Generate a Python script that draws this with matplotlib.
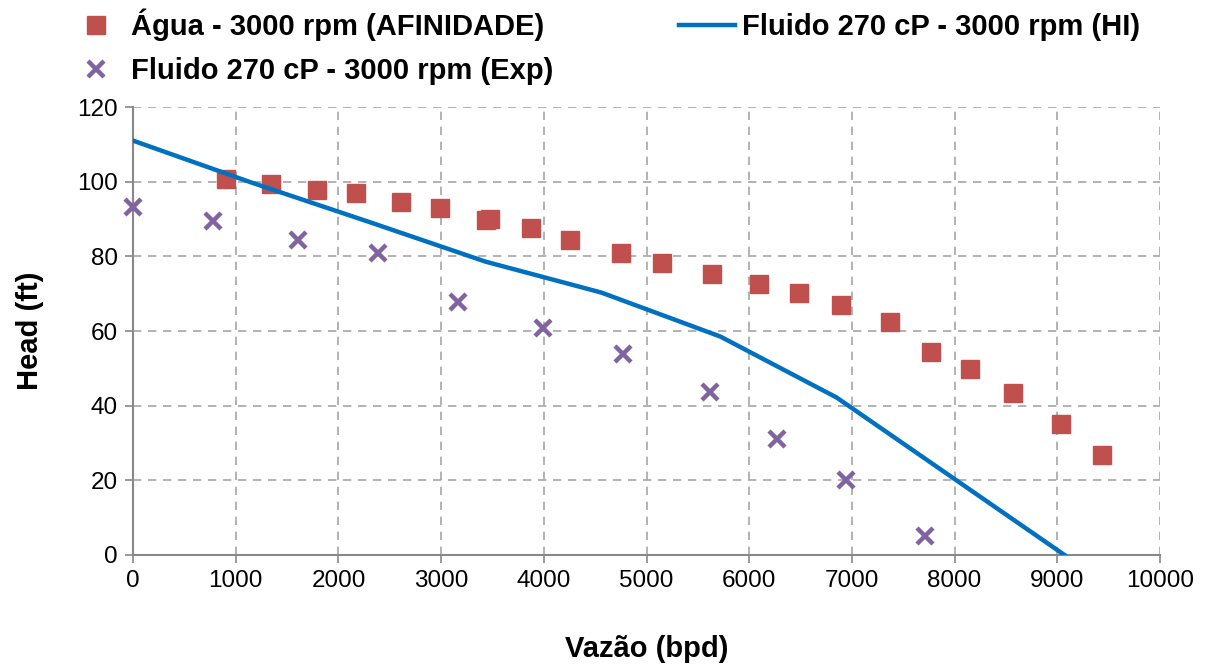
import matplotlib.pyplot as plt

plt.rcParams["font.family"] = ["Liberation Sans", "DejaVu Sans"]

# Água - afinidade (quadrados)
agua_q = [906, 1344, 1792, 2171, 2610, 2989, 3437, 3476, 3875, 4255, 4752, 5151,
          5638, 6096, 6485, 6894, 7371, 7770, 8150, 8569, 9036, 9435]
agua_h = [100.7, 99.4, 97.8, 97.0, 94.6, 93.0, 89.7, 90.0, 87.6, 84.4, 80.9, 78.2,
          75.3, 72.6, 70.2, 67.0, 62.4, 54.4, 49.8, 43.4, 35.1, 26.8]

# Fluido 270 cP - experimental (x)
exp_q = [0, 779, 1607, 2386, 3165, 3992, 4771, 5618, 6271, 6943, 7712]
exp_h = [93.2, 89.5, 84.4, 80.9, 67.8, 60.8, 53.8, 43.7, 31.1, 20.1, 5.1]

# Fluido 270 cP - HI (linha)
hi_q = [0, 1150, 2300, 3430, 4560, 5720, 6850, 9070]
hi_h = [111.0, 99.8, 89.2, 78.6, 70.3, 58.5, 42.2, 0.0]

fig = plt.figure(figsize=(12.14, 6.66), dpi=100)
ax = fig.add_axes([0.1096, 0.1667, 0.8459, 0.6726])

l_agua, = ax.plot(agua_q, agua_h, "s", color="#C0504D", markersize=13,
                  markeredgecolor="#C0504D", label="Água - 3000 rpm (AFINIDADE)", zorder=3)
l_hi, = ax.plot(hi_q, hi_h, "-", color="#0070C0", linewidth=3.2,
                label="Fluido 270 cP - 3000 rpm (HI)", zorder=4)
l_exp, = ax.plot(exp_q, exp_h, "x", color="#8064A2", markersize=12, markeredgewidth=3.2,
                 label="Fluido 270 cP - 3000 rpm (Exp)", zorder=3, clip_on=False)

ax.set_xlim(0, 10000)
ax.set_ylim(0, 120)
ax.set_xticks(range(0, 10001, 1000))
ax.set_yticks(range(0, 121, 20))
ax.tick_params(labelsize=17.5, color="#888888", length=6, width=1.2, pad=5)
ax.grid(True, linestyle=(0, (5, 4)), color="#A6A6A6", linewidth=1.2)
ax.set_axisbelow(True)
for s in ["top", "right"]:
    ax.spines[s].set_visible(False)
for s in ["left", "bottom"]:
    ax.spines[s].set_color("#888888")
    ax.spines[s].set_linewidth(1.5)

ax.set_xlabel("Vazão (bpd)", fontsize=21, fontweight="bold", labelpad=31)
ax.set_ylabel("Head (ft)", fontsize=21, fontweight="bold", labelpad=24)

fig.legend([l_agua, l_exp, l_hi], [l_agua.get_label(), l_exp.get_label(), l_hi.get_label()],
           ncol=2, loc="upper left", bbox_to_anchor=(0.035, 1.027), frameon=False,
           prop={"size": 21, "weight": "bold"}, handlelength=1.9, handletextpad=0.25,
           columnspacing=4.3, labelspacing=0.55)

plt.savefig("out.png", dpi=100)
